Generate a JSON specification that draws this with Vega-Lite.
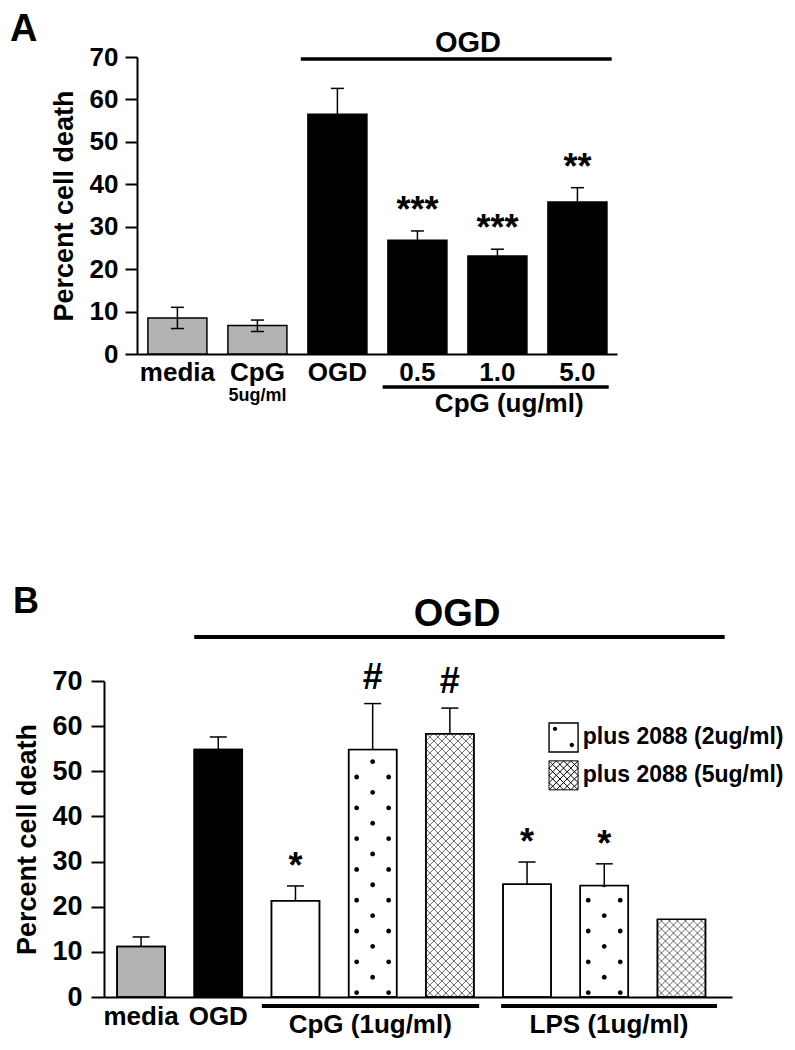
{
  "$schema": "https://vega.github.io/schema/vega-lite/v6.json",
  "background": "white",
  "padding": {"left": 10, "top": 10, "right": 5, "bottom": 5},
  "spacing": 166,
  "resolve": {"scale": {"x": "independent", "y": "independent"}},
  "config": {
    "font": "Liberation Sans",
    "view": {"stroke": null},
    "axis": {"grid": false, "labelFontWeight": "bold", "titleFontWeight": "bold", "labelColor": "black", "titleColor": "black", "domainColor": "black", "tickColor": "black", "domainWidth": 2, "tickWidth": 2},
    "text": {"fontWeight": "bold", "color": "black"}
  },
  "datasets": {
    "a": [
      {"group": "media", "kind": "control", "mean": 8.5, "lo": 6.0, "hi": 11.0},
      {"group": "CpG", "dose": "5ug/ml", "kind": "control", "mean": 6.7, "lo": 5.3, "hi": 8.0},
      {"group": "OGD", "kind": "OGD", "mean": 56.5, "lo": 50.4, "hi": 62.6},
      {"group": "0.5", "kind": "OGD", "mean": 26.8, "lo": 24.6, "hi": 29.0, "sig": "***"},
      {"group": "1.0", "kind": "OGD", "mean": 23.1, "lo": 21.5, "hi": 24.7, "sig": "***"},
      {"group": "5.0", "kind": "OGD", "mean": 35.8, "lo": 32.4, "hi": 39.2, "sig": "**"}
    ],
    "b": [
      {"group": "media", "kind": "control", "antagonist": "none", "mean": 11.2, "hi": 13.3},
      {"group": "OGD", "kind": "OGD", "antagonist": "none", "mean": 54.8, "hi": 57.6},
      {"group": "CpG", "kind": "treated", "antagonist": "none", "mean": 21.3, "hi": 24.6, "sig": "*"},
      {"group": "CpG + 2088 (2ug/ml)", "kind": "treated", "antagonist": "plus 2088 (2ug/ml)", "mean": 54.8, "hi": 65.0, "sig": "#"},
      {"group": "CpG + 2088 (5ug/ml)", "kind": "treated", "antagonist": "plus 2088 (5ug/ml)", "mean": 58.3, "hi": 64.0, "sig": "#"},
      {"group": "LPS", "kind": "treated", "antagonist": "none", "mean": 25.0, "hi": 29.9, "sig": "*"},
      {"group": "LPS + 2088 (2ug/ml)", "kind": "treated", "antagonist": "plus 2088 (2ug/ml)", "mean": 24.7, "hi": 29.5, "sig": "*"},
      {"group": "LPS + 2088 (5ug/ml)", "kind": "treated", "antagonist": "plus 2088 (5ug/ml)", "mean": 17.2}
    ]
  },
  "vconcat": [
    {
      "width": 513,
      "height": 297,
      "title": {"text": "A", "anchor": "start", "frame": "group", "dx": -94, "offset": -20, "fontSize": 38, "fontWeight": "bold", "color": "black"},
      "layer": [
        {
          "data": {"name": "a"},
          "mark": {"type": "bar", "stroke": "black", "strokeWidth": 1.5},
          "encoding": {
            "x": {"field": "group", "type": "nominal", "sort": null,
              "scale": {"domain": ["media", "CpG", "OGD", "0.5", "1.0", "5.0"], "range": [33, 513], "paddingInner": 0.2625, "paddingOuter": 0.131, "align": 0.52},
              "axis": {"title": null, "labelAngle": 0, "labelAlign": "center", "labelFontSize": 26, "ticks": false, "tickSize": 0, "labelPadding": 5, "bandPosition": 0.5}},
            "y": {"field": "mean", "type": "quantitative",
              "scale": {"domain": [0, 70], "nice": false},
              "axis": {"values": [0, 10, 20, 30, 40, 50, 60, 70], "tickSize": 12, "labelFontSize": 26, "labelPadding": 7, "title": "Percent cell death", "titleFontSize": 27, "titlePadding": 11, "offset": -33}},
            "fill": {"field": "kind", "type": "nominal", "scale": {"domain": ["control", "OGD", "treated"], "range": ["#b3b3b3", "#000000", "#ffffff"]}, "legend": null}
          }
        },
        {
          "data": {"name": "a"},
          "mark": {"type": "rule", "strokeWidth": 1.5, "color": "black"},
          "encoding": {
            "x": {"field": "group", "type": "nominal"},
            "y": {"field": "lo", "type": "quantitative"},
            "y2": {"field": "hi"}
          }
        },
        {
          "data": {"name": "a"},
          "mark": {"type": "tick", "thickness": 1.5, "size": 13, "color": "black", "opacity": 1},
          "encoding": {
            "x": {"field": "group", "type": "nominal"},
            "y": {"field": "hi", "type": "quantitative"}
          }
        },
        {
          "data": {"name": "a"},
          "mark": {"type": "tick", "thickness": 1.5, "size": 13, "color": "black", "opacity": 1},
          "encoding": {
            "x": {"field": "group", "type": "nominal"},
            "y": {"field": "lo", "type": "quantitative"}
          }
        },
        {
          "data": {"name": "a"},
          "transform": [{"filter": "isValid(datum.sig)"}],
          "mark": {"type": "text", "fontSize": 36, "baseline": "alphabetic", "dy": -9},
          "encoding": {
            "x": {"field": "group", "type": "nominal"},
            "y": {"field": "hi", "type": "quantitative"},
            "text": {"field": "sig"}
          }
        },
        {
          "data": {"name": "a"},
          "transform": [{"filter": "isValid(datum.dose)"}],
          "mark": {"type": "text", "fontSize": 18, "baseline": "middle"},
          "encoding": {
            "x": {"field": "group", "type": "nominal"},
            "y": {"datum": -9.8},
            "text": {"field": "dose"}
          }
        },
        {
          "data": {"values": [{"label": "OGD"}]},
          "mark": {"type": "rule", "strokeWidth": 3.5, "color": "black"},
          "encoding": {
            "x": {"datum": "OGD", "bandPosition": -0.12},
            "x2": {"datum": "5.0", "bandPosition": 1.08},
            "y": {"datum": 69.5}
          }
        },
        {
          "data": {"values": [{"label": "OGD"}]},
          "mark": {"type": "text", "fontSize": 29, "baseline": "middle"},
          "encoding": {
            "x": {"datum": "1.0", "bandPosition": 0},
            "y": {"datum": 73.3},
            "text": {"field": "label"}
          }
        },
        {
          "data": {"values": [{"label": "CpG (ug/ml)"}]},
          "mark": {"type": "rule", "strokeWidth": 3.5, "color": "black"},
          "encoding": {
            "x": {"datum": "0.5", "bandPosition": -0.09},
            "x2": {"datum": "5.0", "bandPosition": 1.03},
            "y": {"datum": -7.8}
          }
        },
        {
          "data": {"values": [{"label": "CpG (ug/ml)"}]},
          "mark": {"type": "text", "fontSize": 26, "baseline": "middle"},
          "encoding": {
            "x": {"datum": "1.0", "bandPosition": 0.7},
            "y": {"datum": -11.8},
            "text": {"field": "label"}
          }
        }
      ]
    },
    {
      "width": 628,
      "height": 316,
      "title": {"text": "B", "anchor": "start", "frame": "group", "dx": -91, "offset": -25, "fontSize": 36, "fontWeight": "bold", "color": "black"},
      "layer": [
        {
          "data": {"name": "b"},
          "mark": {"type": "bar", "stroke": "black", "strokeWidth": 1.5},
          "encoding": {
            "x": {"field": "group", "type": "nominal", "sort": null,
              "scale": {"domain": ["media", "OGD", "CpG", "CpG + 2088 (2ug/ml)", "CpG + 2088 (5ug/ml)", "LPS", "LPS + 2088 (2ug/ml)", "LPS + 2088 (5ug/ml)"], "paddingInner": 0.378, "paddingOuter": 0.2565, "align": 0.33},
              "axis": {"title": null, "labelAngle": 0, "labelAlign": "center", "labelFontSize": 26, "ticks": false, "tickSize": 0, "labelPadding": 6, "bandPosition": 0.5, "labelExpr": "datum.label == 'media' || datum.label == 'OGD' ? datum.label : ''"}},
            "y": {"field": "mean", "type": "quantitative",
              "scale": {"domain": [0, 70], "nice": false},
              "axis": {"values": [0, 10, 20, 30, 40, 50, 60, 70], "tickSize": 13, "labelFontSize": 27, "labelPadding": 9, "title": "Percent cell death", "titleFontSize": 27, "titlePadding": 10}},
            "fill": {"field": "kind", "type": "nominal", "scale": {"domain": ["control", "OGD", "treated"], "range": ["#b3b3b3", "#000000", "#ffffff"]}, "legend": null}
          }
        },
        {
          "data": {"name": "b"},
          "transform": [{"filter": "datum.antagonist == 'plus 2088 (2ug/ml)'"}],
          "mark": {"type": "point", "clip": true, "size": 256, "filled": true, "color": "black", "strokeWidth": 0, "opacity": 1,
            "shape": "M-2.3,-0.55a0.3,0.3 0 1 0 0.6,0a0.3,0.3 0 1 0 -0.6,0M1.7,-0.55a0.3,0.3 0 1 0 0.6,0a0.3,0.3 0 1 0 -0.6,0M-0.3,-2.48a0.3,0.3 0 1 0 0.6,0a0.3,0.3 0 1 0 -0.6,0M-2.3,-4.4a0.3,0.3 0 1 0 0.6,0a0.3,0.3 0 1 0 -0.6,0M1.7,-4.4a0.3,0.3 0 1 0 0.6,0a0.3,0.3 0 1 0 -0.6,0M-0.3,-6.33a0.3,0.3 0 1 0 0.6,0a0.3,0.3 0 1 0 -0.6,0M-2.3,-8.25a0.3,0.3 0 1 0 0.6,0a0.3,0.3 0 1 0 -0.6,0M1.7,-8.25a0.3,0.3 0 1 0 0.6,0a0.3,0.3 0 1 0 -0.6,0M-0.3,-10.18a0.3,0.3 0 1 0 0.6,0a0.3,0.3 0 1 0 -0.6,0M-2.3,-12.1a0.3,0.3 0 1 0 0.6,0a0.3,0.3 0 1 0 -0.6,0M1.7,-12.1a0.3,0.3 0 1 0 0.6,0a0.3,0.3 0 1 0 -0.6,0M-0.3,-14.03a0.3,0.3 0 1 0 0.6,0a0.3,0.3 0 1 0 -0.6,0M-2.3,-15.95a0.3,0.3 0 1 0 0.6,0a0.3,0.3 0 1 0 -0.6,0M1.7,-15.95a0.3,0.3 0 1 0 0.6,0a0.3,0.3 0 1 0 -0.6,0M-0.3,-17.88a0.3,0.3 0 1 0 0.6,0a0.3,0.3 0 1 0 -0.6,0M-2.3,-19.8a0.3,0.3 0 1 0 0.6,0a0.3,0.3 0 1 0 -0.6,0M1.7,-19.8a0.3,0.3 0 1 0 0.6,0a0.3,0.3 0 1 0 -0.6,0M-0.3,-21.73a0.3,0.3 0 1 0 0.6,0a0.3,0.3 0 1 0 -0.6,0M-2.3,-23.65a0.3,0.3 0 1 0 0.6,0a0.3,0.3 0 1 0 -0.6,0M1.7,-23.65a0.3,0.3 0 1 0 0.6,0a0.3,0.3 0 1 0 -0.6,0M-0.3,-25.58a0.3,0.3 0 1 0 0.6,0a0.3,0.3 0 1 0 -0.6,0M-2.3,-27.5a0.3,0.3 0 1 0 0.6,0a0.3,0.3 0 1 0 -0.6,0M1.7,-27.5a0.3,0.3 0 1 0 0.6,0a0.3,0.3 0 1 0 -0.6,0M-0.3,-29.43a0.3,0.3 0 1 0 0.6,0a0.3,0.3 0 1 0 -0.6,0M-2.3,-31.35a0.3,0.3 0 1 0 0.6,0a0.3,0.3 0 1 0 -0.6,0M1.7,-31.35a0.3,0.3 0 1 0 0.6,0a0.3,0.3 0 1 0 -0.6,0M-0.3,-33.28a0.3,0.3 0 1 0 0.6,0a0.3,0.3 0 1 0 -0.6,0M-2.3,-35.2a0.3,0.3 0 1 0 0.6,0a0.3,0.3 0 1 0 -0.6,0M1.7,-35.2a0.3,0.3 0 1 0 0.6,0a0.3,0.3 0 1 0 -0.6,0"},
          "encoding": {
            "x": {"field": "group", "type": "nominal"},
            "y": {"datum": 0}
          }
        },
        {
          "data": {"name": "b"},
          "transform": [{"filter": "datum.antagonist == 'plus 2088 (5ug/ml)'"}],
          "mark": {"type": "point", "clip": true, "size": 256, "filled": false, "color": "black", "strokeWidth": 0.6, "opacity": 1,
            "shape": "M-3,6L3,0M-3,0L3,6M-3,5L3,-1M-3,-1L3,5M-3,4L3,-2M-3,-2L3,4M-3,3L3,-3M-3,-3L3,3M-3,2L3,-4M-3,-4L3,2M-3,1L3,-5M-3,-5L3,1M-3,0L3,-6M-3,-6L3,0M-3,-1L3,-7M-3,-7L3,-1M-3,-2L3,-8M-3,-8L3,-2M-3,-3L3,-9M-3,-9L3,-3M-3,-4L3,-10M-3,-10L3,-4M-3,-5L3,-11M-3,-11L3,-5M-3,-6L3,-12M-3,-12L3,-6M-3,-7L3,-13M-3,-13L3,-7M-3,-8L3,-14M-3,-14L3,-8M-3,-9L3,-15M-3,-15L3,-9M-3,-10L3,-16M-3,-16L3,-10M-3,-11L3,-17M-3,-17L3,-11M-3,-12L3,-18M-3,-18L3,-12M-3,-13L3,-19M-3,-19L3,-13M-3,-14L3,-20M-3,-20L3,-14M-3,-15L3,-21M-3,-21L3,-15M-3,-16L3,-22M-3,-22L3,-16M-3,-17L3,-23M-3,-23L3,-17M-3,-18L3,-24M-3,-24L3,-18M-3,-19L3,-25M-3,-25L3,-19M-3,-20L3,-26M-3,-26L3,-20M-3,-21L3,-27M-3,-27L3,-21M-3,-22L3,-28M-3,-28L3,-22M-3,-23L3,-29M-3,-29L3,-23M-3,-24L3,-30M-3,-30L3,-24M-3,-25L3,-31M-3,-31L3,-25M-3,-26L3,-32M-3,-32L3,-26M-3,-27L3,-33M-3,-33L3,-27M-3,-28L3,-34M-3,-34L3,-28M-3,-29L3,-35M-3,-35L3,-29M-3,-30L3,-36M-3,-36L3,-30M-3,-31L3,-37M-3,-37L3,-31M-3,-32L3,-38M-3,-38L3,-32M-3,-33L3,-39M-3,-39L3,-33M-3,-34L3,-40M-3,-40L3,-34M-3,-35L3,-41M-3,-41L3,-35M-3,-36L3,-42M-3,-42L3,-36"},
          "encoding": {
            "x": {"field": "group", "type": "nominal"},
            "y": {"datum": 0}
          }
        },
        {
          "data": {"name": "b"},
          "transform": [{"filter": "datum.antagonist != 'none'"}],
          "mark": {"type": "bar", "fill": "white", "strokeWidth": 0, "width": {"band": 1.06}},
          "encoding": {
            "x": {"field": "group", "type": "nominal"},
            "y": {"field": "mean", "type": "quantitative"},
            "y2": {"datum": 70}
          }
        },
        {
          "data": {"name": "b"},
          "mark": {"type": "bar", "fillOpacity": 0, "stroke": "black", "strokeWidth": 1.5},
          "encoding": {
            "x": {"field": "group", "type": "nominal"},
            "y": {"field": "mean", "type": "quantitative"}
          }
        },
        {
          "data": {"name": "b"},
          "transform": [{"filter": "isValid(datum.hi)"}],
          "mark": {"type": "rule", "strokeWidth": 1.5, "color": "black"},
          "encoding": {
            "x": {"field": "group", "type": "nominal"},
            "y": {"field": "mean", "type": "quantitative"},
            "y2": {"field": "hi"}
          }
        },
        {
          "data": {"name": "b"},
          "transform": [{"filter": "isValid(datum.hi)"}],
          "mark": {"type": "tick", "thickness": 1.5, "size": 17, "color": "black", "opacity": 1},
          "encoding": {
            "x": {"field": "group", "type": "nominal"},
            "y": {"field": "hi", "type": "quantitative"}
          }
        },
        {
          "data": {"name": "b"},
          "transform": [{"filter": "datum.sig == '*'"}],
          "mark": {"type": "text", "fontSize": 36, "baseline": "alphabetic", "dy": -8},
          "encoding": {
            "x": {"field": "group", "type": "nominal"},
            "y": {"field": "hi", "type": "quantitative"},
            "text": {"field": "sig"}
          }
        },
        {
          "data": {"name": "b"},
          "transform": [{"filter": "datum.sig == '#'"}],
          "mark": {"type": "text", "fontSize": 36, "baseline": "alphabetic", "dy": -15},
          "encoding": {
            "x": {"field": "group", "type": "nominal"},
            "y": {"field": "hi", "type": "quantitative"},
            "text": {"field": "sig"}
          }
        },
        {
          "data": {"values": [{"label": "plus 2088 (2ug/ml)"}]},
          "mark": {"type": "point", "filled": true, "fill": "white", "stroke": "black", "strokeWidth": 1.4, "size": 841, "opacity": 1, "shape": "M-1,-1L1,-1L1,1L-1,1Z"},
          "encoding": {
            "x": {"datum": "LPS", "bandPosition": 1.26},
            "y": {"datum": 57.5}
          }
        },
        {
          "data": {"values": [{"label": "plus 2088 (2ug/ml)"}]},
          "mark": {"type": "point", "filled": true, "color": "black", "strokeWidth": 0, "size": 841, "opacity": 1,
            "shape": "M-0.74,-0.59a0.15,0.15 0 1 0 0.3,0a0.15,0.15 0 1 0 -0.3,0M0.42,0.52a0.15,0.15 0 1 0 0.3,0a0.15,0.15 0 1 0 -0.3,0"},
          "encoding": {
            "x": {"datum": "LPS", "bandPosition": 1.26},
            "y": {"datum": 57.5}
          }
        },
        {
          "data": {"values": [{"label": "plus 2088 (2ug/ml)"}]},
          "mark": {"type": "text", "fontSize": 23, "align": "left", "baseline": "middle"},
          "encoding": {
            "x": {"datum": "LPS", "bandPosition": 1.66},
            "y": {"datum": 57.5},
            "text": {"field": "label"}
          }
        },
        {
          "data": {"values": [{"label": "plus 2088 (5ug/ml)"}]},
          "mark": {"type": "point", "filled": true, "fill": "white", "stroke": "black", "strokeWidth": 1.0, "size": 841, "opacity": 1,
            "shape": "M-1,-1L1,-1L1,1L-1,1ZM-1,-1L1,1M-1,-0.5L0.5,1M-1,0L0,1M-1,0.5L-0.5,1M-0.5,-1L1,0.5M0,-1L1,0M0.5,-1L1,-0.5M-1,1L1,-1M-0.5,1L1,-0.5M0,1L1,0M0.5,1L1,0.5M-1,0.5L0.5,-1M-1,0L0,-1M-1,-0.5L-0.5,-1"},
          "encoding": {
            "x": {"datum": "LPS", "bandPosition": 1.26},
            "y": {"datum": 49.1}
          }
        },
        {
          "data": {"values": [{"label": "plus 2088 (5ug/ml)"}]},
          "mark": {"type": "text", "fontSize": 23, "align": "left", "baseline": "middle"},
          "encoding": {
            "x": {"datum": "LPS", "bandPosition": 1.66},
            "y": {"datum": 49.1},
            "text": {"field": "label"}
          }
        },
        {
          "data": {"values": [{"label": "OGD"}]},
          "mark": {"type": "rule", "strokeWidth": 4, "color": "black"},
          "encoding": {
            "x": {"datum": "OGD", "bandPosition": 0},
            "x2": {"datum": "LPS + 2088 (5ug/ml)", "bandPosition": 1.4},
            "y": {"datum": 79.75}
          }
        },
        {
          "data": {"values": [{"label": "OGD"}]},
          "mark": {"type": "text", "fontSize": 38, "baseline": "middle"},
          "encoding": {
            "x": {"datum": "CpG + 2088 (5ug/ml)", "bandPosition": 0.65},
            "y": {"datum": 84.6},
            "text": {"field": "label"}
          }
        },
        {
          "data": {"values": [{"label": "CpG (1ug/ml)"}]},
          "mark": {"type": "rule", "strokeWidth": 4, "color": "black"},
          "encoding": {
            "x": {"datum": "CpG", "bandPosition": -0.2},
            "x2": {"datum": "CpG + 2088 (5ug/ml)", "bandPosition": 1.11},
            "y": {"datum": -2.0}
          }
        },
        {
          "data": {"values": [{"label": "CpG (1ug/ml)"}]},
          "mark": {"type": "text", "fontSize": 26, "baseline": "middle"},
          "encoding": {
            "x": {"datum": "CpG + 2088 (2ug/ml)", "bandPosition": 0.45},
            "y": {"datum": -6.2},
            "text": {"field": "label"}
          }
        },
        {
          "data": {"values": [{"label": "LPS (1ug/ml)"}]},
          "mark": {"type": "rule", "strokeWidth": 4, "color": "black"},
          "encoding": {
            "x": {"datum": "LPS", "bandPosition": -0.04},
            "x2": {"datum": "LPS + 2088 (5ug/ml)", "bandPosition": 1.24},
            "y": {"datum": -2.0}
          }
        },
        {
          "data": {"values": [{"label": "LPS (1ug/ml)"}]},
          "mark": {"type": "text", "fontSize": 26, "baseline": "middle"},
          "encoding": {
            "x": {"datum": "LPS + 2088 (2ug/ml)", "bandPosition": 0.6},
            "y": {"datum": -6.2},
            "text": {"field": "label"}
          }
        }
      ]
    }
  ]
}
